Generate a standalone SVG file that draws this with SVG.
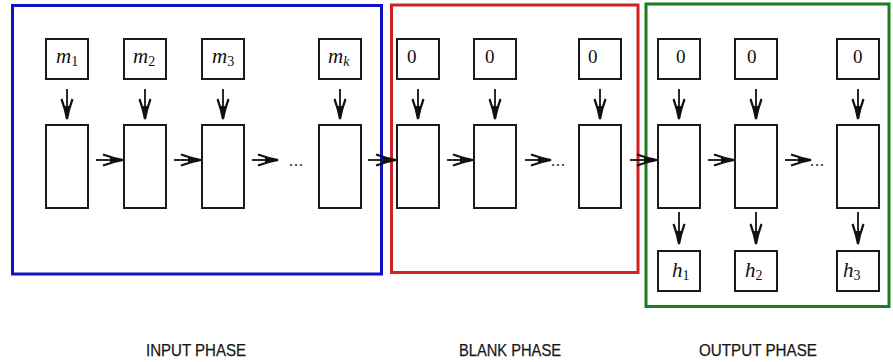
<svg xmlns="http://www.w3.org/2000/svg" width="893" height="362" viewBox="0 0 893 362">
  <style>
    .cell { fill: #ffffff; stroke: #1a1a1a; stroke-width: 2; }
    .link { stroke: #111; stroke-width: 1.8; fill: none; marker-end: url(#head); }
    .phase { fill: none; stroke-width: 3; }
    .math { font-family: "Liberation Serif", "Times New Roman", serif; fill: #111; }
    .var { font-style: italic; font-size: 21px; }
    .sub { font-size: 14px; font-style: normal; }
    .sub.it { font-style: italic; }
    .zero { font-size: 19px; }
    .dots { font-family: "Liberation Serif", serif; font-size: 16px; fill: #222; letter-spacing: 1px; }
    .caption { font-family: "Liberation Sans", Arial, sans-serif; font-size: 17px; fill: #161616; stroke: #161616; stroke-width: 0.25; }
  </style>
  <defs>
    <!-- barbed arrowhead -->
    <marker id="head" markerUnits="userSpaceOnUse" viewBox="-20 -8 24 16" refX="0" refY="0" markerWidth="24" markerHeight="16" orient="auto" overflow="visible">
      <path d="M-20,-5.5 Q-9,-1.5 0,0 Q-9,1.5 -20,5.5" fill="none" stroke="#111" stroke-width="2.2"/>
      <path d="M-13,-2.6 L0,0 L-13,2.6 Z" fill="#111"/>
    </marker>
  </defs>

  <!-- phase frames -->
  <g id="phases">
    <rect id="input-phase" class="phase" x="12.5" y="5.5" width="369" height="268.5" stroke="#1212c4"/>
    <rect id="blank-phase" class="phase" x="391.5" y="5" width="246.5" height="267.5" stroke="#cf2222"/>
    <rect id="output-phase" class="phase" x="646" y="4" width="243" height="302.5" stroke="#1b7d1b"/>
  </g>

  <!-- connectors -->
  <g id="connectors">
    <!-- inputs into cells -->
    <line class="link" x1="67" y1="89" x2="67" y2="119"/>
    <line class="link" x1="145" y1="89" x2="145" y2="119"/>
    <line class="link" x1="223" y1="89" x2="223" y2="119"/>
    <line class="link" x1="340" y1="89" x2="340" y2="119"/>
    <line class="link" x1="418" y1="89" x2="418" y2="119"/>
    <line class="link" x1="495" y1="89" x2="495" y2="119"/>
    <line class="link" x1="600" y1="89" x2="600" y2="119"/>
    <line class="link" x1="679" y1="89" x2="679" y2="119"/>
    <line class="link" x1="756" y1="89" x2="756" y2="119"/>
    <line class="link" x1="858" y1="89" x2="858" y2="119"/>
    <!-- recurrence -->
    <line class="link" x1="96" y1="160" x2="123" y2="160"/>
    <line class="link" x1="174" y1="160" x2="201" y2="160"/>
    <line class="link" x1="252" y1="160" x2="278" y2="160"/>
    <line class="link" x1="368" y1="160" x2="396" y2="160"/>
    <line class="link" x1="447" y1="160" x2="473" y2="160"/>
    <line class="link" x1="525" y1="160" x2="551" y2="160"/>
    <line class="link" x1="630" y1="160" x2="657" y2="160"/>
    <line class="link" x1="708" y1="160" x2="734" y2="160"/>
    <line class="link" x1="785" y1="160" x2="811" y2="160"/>
    <!-- outputs -->
    <line class="link" x1="679" y1="212" x2="679" y2="244"/>
    <line class="link" x1="756" y1="212" x2="756" y2="244"/>
    <line class="link" x1="858" y1="212" x2="858" y2="244"/>
  </g>

  <g id="ellipses">
    <text class="dots" x="289" y="166">...</text>
    <text class="dots" x="551" y="166">...</text>
    <text class="dots" x="810" y="166">...</text>
  </g>

  <!-- input phase -->
  <g id="in-m1">
    <rect class="cell" x="46" y="39" width="42" height="40"/>
    <text class="math var" x="56" y="63">m<tspan class="sub" dy="3">1</tspan></text>
  </g>
  <g id="in-m2">
    <rect class="cell" x="124" y="39" width="42" height="40"/>
    <text class="math var" x="133" y="63">m<tspan class="sub" dy="3">2</tspan></text>
  </g>
  <g id="in-m3">
    <rect class="cell" x="202" y="39" width="42" height="40"/>
    <text class="math var" x="212" y="63">m<tspan class="sub" dy="3">3</tspan></text>
  </g>
  <g id="in-mk">
    <rect class="cell" x="319" y="39" width="42" height="40"/>
    <text class="math var" x="328" y="63">m<tspan class="sub it" dy="3">k</tspan></text>
  </g>
  <g id="cell-1"><rect class="cell" x="46" y="125" width="42" height="83"/></g>
  <g id="cell-2"><rect class="cell" x="124" y="125" width="42" height="83"/></g>
  <g id="cell-3"><rect class="cell" x="202" y="125" width="42" height="83"/></g>
  <g id="cell-k"><rect class="cell" x="319" y="125" width="42" height="83"/></g>

  <!-- blank phase -->
  <g id="blank-in-1">
    <rect class="cell" x="397" y="39" width="42" height="40"/>
    <text class="math zero" x="407" y="63">0</text>
  </g>
  <g id="blank-in-2">
    <rect class="cell" x="474" y="39" width="42" height="40"/>
    <text class="math zero" x="485" y="63">0</text>
  </g>
  <g id="blank-in-3">
    <rect class="cell" x="579" y="39" width="42" height="40"/>
    <text class="math zero" x="588" y="63">0</text>
  </g>
  <g id="blank-cell-1"><rect class="cell" x="397" y="125" width="42" height="83"/></g>
  <g id="blank-cell-2"><rect class="cell" x="474" y="125" width="42" height="83"/></g>
  <g id="blank-cell-3"><rect class="cell" x="579" y="125" width="42" height="83"/></g>

  <!-- output phase -->
  <g id="out-in-1">
    <rect class="cell" x="658" y="39" width="42" height="40"/>
    <text class="math zero" x="676" y="63">0</text>
  </g>
  <g id="out-in-2">
    <rect class="cell" x="735" y="39" width="42" height="40"/>
    <text class="math zero" x="747" y="63">0</text>
  </g>
  <g id="out-in-3">
    <rect class="cell" x="837" y="39" width="42" height="40"/>
    <text class="math zero" x="853" y="63">0</text>
  </g>
  <g id="out-cell-1"><rect class="cell" x="658" y="125" width="42" height="83"/></g>
  <g id="out-cell-2"><rect class="cell" x="735" y="125" width="42" height="83"/></g>
  <g id="out-cell-3"><rect class="cell" x="837" y="125" width="42" height="83"/></g>
  <g id="out-h1">
    <rect class="cell" x="658" y="251" width="42" height="40"/>
    <text class="math var" x="672" y="277">h<tspan class="sub" dy="3">1</tspan></text>
  </g>
  <g id="out-h2">
    <rect class="cell" x="735" y="251" width="42" height="40"/>
    <text class="math var" x="745" y="277">h<tspan class="sub" dy="3">2</tspan></text>
  </g>
  <g id="out-h3">
    <rect class="cell" x="837" y="251" width="42" height="40"/>
    <text class="math var" x="843" y="277">h<tspan class="sub" dy="3">3</tspan></text>
  </g>

  <!-- phase captions -->
  <g id="captions">
    <text class="caption" x="146" y="356" textLength="100" lengthAdjust="spacingAndGlyphs">INPUT PHASE</text>
    <text class="caption" x="459" y="356" textLength="102" lengthAdjust="spacingAndGlyphs">BLANK PHASE</text>
    <text class="caption" x="699" y="356" textLength="118" lengthAdjust="spacingAndGlyphs">OUTPUT PHASE</text>
  </g>
</svg>
